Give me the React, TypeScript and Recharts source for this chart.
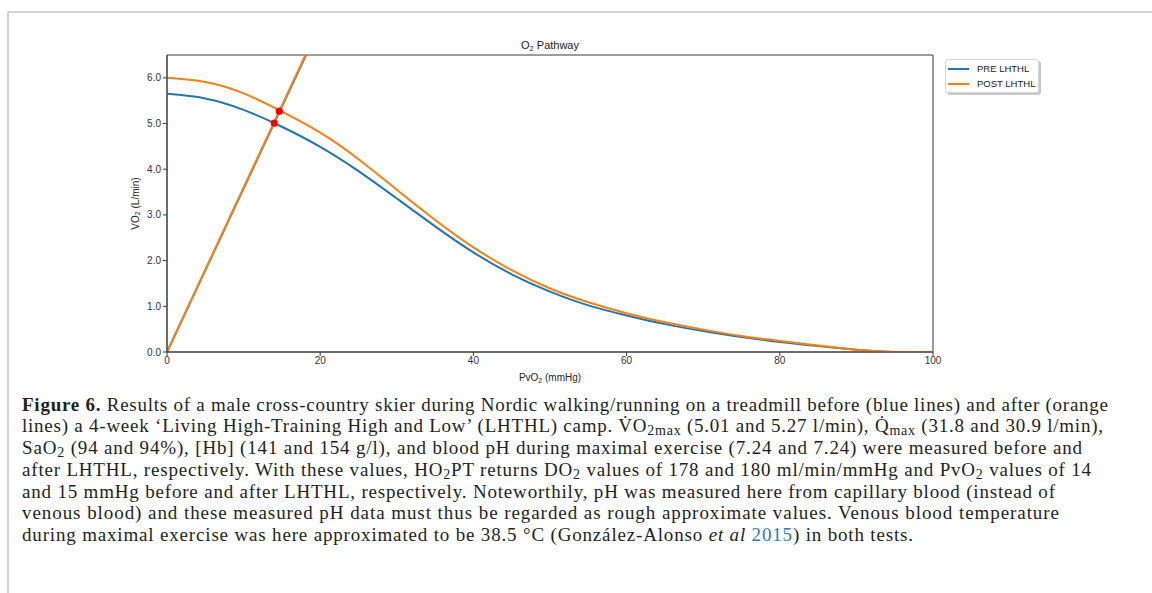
import React from 'react';
import {
  ComposedChart,
  Line,
  Scatter,
  XAxis,
  YAxis,
  ReferenceArea,
  Label,
} from 'recharts';

// PvO2 (mmHg) sample positions for the convective curves
const pvo2 = [0, 5, 10, 15, 20, 25, 30, 35, 40, 45, 50, 55, 60, 65, 70, 75, 80, 85, 90, 95, 100];
// VO2 (L/min)
const preConvective = [5.65, 5.55, 5.3, 4.93, 4.49, 3.96, 3.36, 2.75, 2.18, 1.7, 1.32, 1.02, 0.8, 0.61, 0.46, 0.33, 0.22, 0.13, 0.05, 0.0, 0.0];
const postConvective = [6.0, 5.91, 5.66, 5.26, 4.8, 4.22, 3.55, 2.89, 2.29, 1.79, 1.39, 1.09, 0.85, 0.65, 0.49, 0.35, 0.24, 0.14, 0.05, 0.0, 0.0];

// diffusion lines (straight, through origin)
const diffusionX = [0, 20];
const preDiffusion = [0, 7.16];
const postDiffusion = [0, 7.19];

// intersections (VO2max)
const maxX = [14.0, 14.66];
const maxY = [5.01, 5.27];

const xTicks = [0, 20, 40, 60, 80, 100];
const yTicks = [0, 1, 2, 3, 4, 5, 6];

const seriesNames = ['PRE LHTHL', 'POST LHTHL'];
const BLUE = '#1f77b4';
const ORANGE = '#ff7f0e';

const toPoints = (xs: number[], ys: number[]) => xs.map((x, i) => ({ x, y: ys[i] }));

const preConvData = toPoints(pvo2, preConvective);
const postConvData = toPoints(pvo2, postConvective);
const preDiffData = toPoints(diffusionX, preDiffusion);
const postDiffData = toPoints(diffusionX, postDiffusion);
const maxData = toPoints(maxX, maxY);

const sans = '"Liberation Sans", Arial, sans-serif';
const serif = '"Liberation Serif", "Times New Roman", serif';

type Seg = { t: string; b?: boolean; i?: boolean; sub?: boolean; c?: string };

const captionLines: { segs: Seg[]; end: number }[] = [
  {
    segs: [
      { t: 'Figure 6.', b: true },
      { t: ' Results of a male cross-country skier during Nordic walking/running on a treadmill before (blue lines) and after (orange' },
    ],
    end: 1108,
  },
  {
    segs: [
      { t: 'lines) a 4-week \u2018Living High-Training High and Low\u2019 (LHTHL) camp. V\u0307O' },
      { t: '2max', sub: true },
      { t: ' (5.01 and 5.27 l/min), Q\u0307' },
      { t: 'max', sub: true },
      { t: ' (31.8 and 30.9 l/min),' },
    ],
    end: 1103,
  },
  {
    segs: [
      { t: 'SaO' },
      { t: '2', sub: true },
      { t: ' (94 and 94%), [Hb] (141 and 154 g/l), and blood pH during maximal exercise (7.24 and 7.24) were measured before and' },
    ],
    end: 1082,
  },
  {
    segs: [
      { t: 'after LHTHL, respectively. With these values, HO' },
      { t: '2', sub: true },
      { t: 'PT returns DO' },
      { t: '2', sub: true },
      { t: ' values of 178 and 180 ml/min/mmHg and PvO' },
      { t: '2', sub: true },
      { t: ' values of 14' },
    ],
    end: 1091,
  },
  {
    segs: [{ t: 'and 15 mmHg before and after LHTHL, respectively. Noteworthily, pH was measured here from capillary blood (instead of' }],
    end: 1055,
  },
  {
    segs: [{ t: 'venous blood) and these measured pH data must thus be regarded as rough approximate values. Venous blood temperature' }],
    end: 1059,
  },
  {
    segs: [
      { t: 'during maximal exercise was here approximated to be 38.5 \u00b0C (Gonz\u00e1lez-Alonso ' },
      { t: 'et al', i: true },
      { t: ' ' },
      { t: '2015', c: '#2b7bb9' },
      { t: ') in both tests.' },
    ],
    end: 913,
  },
];

const renderSegs = (segs: Seg[]) => {
  const out: React.ReactNode[] = [];
  let shifted = false;
  segs.forEach((s, k) => {
    let dy = 0;
    if (s.sub && !shifted) {
      dy = 3;
      shifted = true;
    } else if (!s.sub && shifted) {
      dy = -3;
      shifted = false;
    }
    out.push(
      <tspan
        key={k}
        dy={dy || undefined}
        fontWeight={s.b ? 'bold' : undefined}
        fontStyle={s.i ? 'italic' : undefined}
        fontSize={s.sub ? 14 : undefined}
        fill={s.c}
      >
        {s.t}
      </tspan>
    );
  });
  return out;
};

const XLabel = (props: any) => {
  const vb = props.viewBox;
  return (
    <text x={vb.x + vb.width / 2} y={vb.y + 29} textAnchor="middle" fontFamily={sans} fontSize={10} fill="#262626">
      PvO<tspan fontSize={7} dy={2}>2</tspan>
      <tspan dy={-2}> (mmHg)</tspan>
    </text>
  );
};

const YLabel = (props: any) => {
  const vb = props.viewBox;
  const cx = 135;
  const cy = vb.y + vb.height / 2;
  return (
    <text
      x={cx}
      y={cy}
      transform={`rotate(-90 ${cx} ${cy})`}
      textAnchor="middle"
      dominantBaseline="central"
      fontFamily={sans}
      fontSize={10}
      fill="#262626"
    >
      VO<tspan fontSize={7} dy={2}>2</tspan>
      <tspan dy={-2}> (L/min)</tspan>
    </text>
  );
};

const RedDot = (props: any) => <circle cx={props.cx} cy={props.cy} r={3.6} fill="#ff0000" />;

const OxygenChart = () => (
  <ComposedChart
    width={1152}
    height={400}
    margin={{ top: 55, right: 219, bottom: 18, left: 107 }}
    style={{ position: 'absolute', left: 0, top: 0 }}
  >
    <XAxis
      dataKey="x"
      type="number"
      domain={[0, 100]}
      ticks={xTicks}
      allowDataOverflow
      height={30}
      stroke="#3a3a3a"
      tickSize={4}
      tickMargin={1}
      tick={{ fill: '#333', fontSize: 10, fontFamily: sans }}
    >
      <Label content={XLabel} />
    </XAxis>
    <YAxis
      dataKey="y"
      type="number"
      domain={[0, 6.5]}
      ticks={yTicks}
      allowDataOverflow
      width={60}
      stroke="#3a3a3a"
      tickSize={4}
      tickMargin={2}
      tickFormatter={(v: number) => v.toFixed(1)}
      tick={{ fill: '#333', fontSize: 10, fontFamily: sans }}
    >
      <Label content={YLabel} />
    </YAxis>
    <ReferenceArea x1={0} x2={100} y1={0} y2={6.5} fill="none" fillOpacity={0} stroke="#3a3a3a" strokeWidth={1} />
    <Line data={preConvData} dataKey="y" type="natural" stroke={BLUE} strokeWidth={2} dot={false} isAnimationActive={false} />
    <Line data={preDiffData} dataKey="y" type="linear" stroke={BLUE} strokeWidth={2} dot={false} isAnimationActive={false} />
    <Line data={postConvData} dataKey="y" type="natural" stroke={ORANGE} strokeWidth={2} dot={false} isAnimationActive={false} />
    <Line data={postDiffData} dataKey="y" type="linear" stroke={ORANGE} strokeWidth={2} dot={false} isAnimationActive={false} />
    <Scatter data={maxData} dataKey="y" shape={RedDot} isAnimationActive={false} />
  </ComposedChart>
);

const LegendBox = () => (
  <div
    style={{
      position: 'absolute',
      left: 945,
      top: 59,
      width: 92,
      height: 32,
      border: '1px solid #d4d4d4',
      borderRadius: 3,
      background: '#fff',
      boxShadow: '2px 2px 0 #c9c9c9',
      fontFamily: sans,
      fontSize: 9.5,
      color: '#222',
    }}
  >
    {seriesNames.map((n, i) => (
      <div key={n} style={{ position: 'absolute', left: 2, top: 2 + i * 15, height: 13, display: 'flex', alignItems: 'center' }}>
        <span style={{ display: 'inline-block', width: 21, height: 2, background: i === 0 ? BLUE : ORANGE, marginRight: 8 }} />
        <span>{n}</span>
      </div>
    ))}
  </div>
);

export default function App() {
  return (
    <div style={{ position: 'absolute', left: 0, top: 0, width: 1152, height: 593, background: '#fff', overflow: 'hidden' }}>
      <svg width={1152} height={593} style={{ position: 'absolute', left: 0, top: 0 }}>
        <line x1={8} y1={12} x2={1152} y2={12} stroke="#c4c4c4" strokeWidth={1.5} />
        <line x1={8} y1={12} x2={8} y2={593} stroke="#c4c4c4" strokeWidth={1.5} />
        <text x={550} y={49} textAnchor="middle" fontFamily={sans} fontSize={11} fill="#222">
          O<tspan fontSize={7.5} dy={2}>2</tspan>
          <tspan dy={-2}> Pathway</tspan>
        </text>
        {captionLines.map((ln, i) => (
          <text
            key={i}
            x={22}
            y={410.7 + i * 21.7}
            fontFamily={serif}
            fontSize={19}
            fill="#231f20"
            textLength={ln.end - 22}
            lengthAdjust="spacing"
          >
            {renderSegs(ln.segs)}
          </text>
        ))}
      </svg>
      <OxygenChart />
      <LegendBox />
    </div>
  );
}
